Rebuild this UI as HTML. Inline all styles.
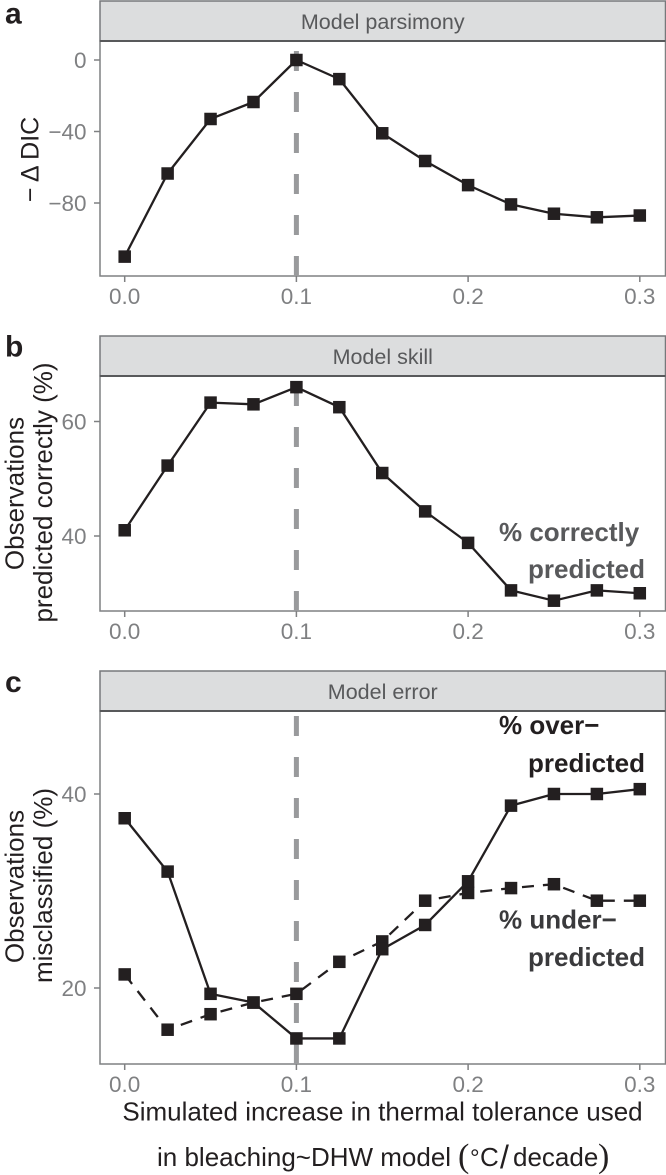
<!DOCTYPE html>
<html>
<head>
<meta charset="utf-8">
<style>
html,body{margin:0;padding:0;background:#fff;width:666px;height:1175px;overflow:hidden}
svg{display:block;font-family:"Liberation Sans",sans-serif}
</style>
</head>
<body>
<svg id="figure" width="666" height="1175" viewBox="0 0 666 1175" xmlns="http://www.w3.org/2000/svg">
<g id="panels"></g>
<text x="5" y="23.5" font-size="30" font-weight="bold" fill="#231f20">a</text>
<text x="5" y="356.5" font-size="30" font-weight="bold" fill="#231f20">b</text>
<text x="5" y="692" font-size="30" font-weight="bold" fill="#231f20">c</text>
<text transform="translate(38.5,159.5) rotate(-90)" text-anchor="middle" font-size="25" fill="#231f20">− Δ DIC</text>
<text transform="translate(23.5,493.5) rotate(-90)" text-anchor="middle" font-size="26" fill="#231f20">Observations</text>
<text transform="translate(52,492.5) rotate(-90)" text-anchor="middle" font-size="26" fill="#231f20">predicted correctly (%)</text>
<text transform="translate(23.5,886.5) rotate(-90)" text-anchor="middle" font-size="26" fill="#231f20">Observations</text>
<text transform="translate(52,885.5) rotate(-90)" text-anchor="middle" font-size="26" fill="#231f20">misclassified (%)</text>
<text x="499" y="541" font-size="26" font-weight="bold" fill="#58595b">% correctly</text>
<text x="528" y="578" font-size="26" font-weight="bold" fill="#58595b">predicted</text>
<text x="499" y="734" font-size="26" font-weight="bold" fill="#231f20">% over−</text>
<text x="528" y="772" font-size="26" font-weight="bold" fill="#231f20">predicted</text>
<text x="499" y="928.5" font-size="26" font-weight="bold" fill="#3a3a3c">% under−</text>
<text x="528" y="966" font-size="26" font-weight="bold" fill="#3a3a3c">predicted</text>
<text x="382.5" y="1120.5" text-anchor="middle" font-size="26" fill="#231f20">Simulated increase in thermal tolerance used</text>
<text x="157" y="1166" font-size="26" fill="#231f20">in bleaching~DHW model <tspan font-size="34" font-family="Liberation Serif" x="458" y="1167">(</tspan><tspan font-size="24" x="470" y="1166">°</tspan><tspan x="480" y="1166">C</tspan><tspan font-size="32" x="500" y="1168">/</tspan><tspan x="513" y="1166">decade</tspan><tspan font-size="34" font-family="Liberation Serif" x="598" y="1167">)</tspan></text>
</svg>
<script>
var xValues = [0, 0.025, 0.05, 0.075, 0.1, 0.125, 0.15, 0.175, 0.2, 0.225, 0.25, 0.275, 0.3];
var xTicks = [0, 0.1, 0.2, 0.3];
var xTickLabels = ['0.0', '0.1', '0.2', '0.3'];
var referenceX = 0.1;
var parsimonyValues = [-110, -63.5, -33, -23.5, 0, -10.7, -41, -56.5, -70, -80.8, -86, -88, -87];
var parsimonyTicks = [0, -40, -80];
var parsimonyTickLabels = ['0', '−40', '−80'];
var skillValues = [41, 52.3, 63.3, 63, 66, 62.5, 51, 44.3, 38.8, 30.5, 28.7, 30.5, 30];
var skillTicks = [60, 40];
var skillTickLabels = ['60', '40'];
var overValues = [37.5, 32, 19.4, 18.5, 14.8, 14.8, 24, 26.5, 31, 38.8, 40, 40, 40.5];
var underValues = [21.4, 15.7, 17.3, 18.5, 19.4, 22.7, 24.8, 29, 29.8, 30.3, 30.7, 29, 29];
var errorTicks = [40, 20];
var errorTickLabels = ['40', '20'];

var NS = 'http://www.w3.org/2000/svg';
var root = document.getElementById('panels');
function mk(parent, tag, attrs, text) {
  var el = document.createElementNS(NS, tag);
  for (var k in attrs) el.setAttribute(k, attrs[k]);
  if (text !== undefined) el.textContent = text;
  parent.appendChild(el);
  return el;
}
function xScale(v) { return 124.7 + v * 1717; }
function makeYScale(v0, y0, v1, y1) {
  return function (v) { return y0 + (v - v0) * (y1 - y0) / (v1 - v0); };
}
var LEFT = 100, RIGHT = 665.5;
var INK = '#231f20', AXIS = '#7f8082';

function drawPanel(key, title, top, stripBottom, bottom, yScale, yTicks, yLabels, series) {
  var g = mk(root, 'g', {});
  
  

  var strip = mk(g, 'rect', {x: LEFT, y: top, width: RIGHT - LEFT, height: stripBottom - top, fill: '#dcddde', stroke: '#77787b', 'stroke-width': 1.5});
  
  

  var stripLabel = mk(g, 'text', {x: (LEFT + RIGHT) / 2, y: top + 28, 'text-anchor': 'middle', 'font-size': 21.5, fill: '#58595b'}, title);
  
  

  var frame = mk(g, 'rect', {x: LEFT, y: stripBottom, width: RIGHT - LEFT, height: bottom - stripBottom, fill: '#fff', stroke: AXIS, 'stroke-width': 1.5});
  
  

  var topRule = mk(g, 'line', {x1: LEFT, x2: RIGHT, y1: stripBottom, y2: stripBottom, stroke: '#58595b', 'stroke-width': 2});
  
  

  var ref = mk(g, 'line', {x1: xScale(referenceX), x2: xScale(referenceX), y1: bottom, y2: stripBottom + 1, stroke: '#999a9c', 'stroke-width': 5, 'stroke-dasharray': '20 21'});
  
  

  xTicks.forEach(function (t, i) {
    var tick = mk(g, 'line', {x1: xScale(t), x2: xScale(t), y1: bottom, y2: bottom + 6, stroke: AXIS, 'stroke-width': 1.5});
    
    
    var lab = mk(g, 'text', {x: xScale(t), y: bottom + 28, 'text-anchor': 'middle', 'font-size': 22.5, fill: '#7f8082'}, xTickLabels[i]);
    
    
  });
  yTicks.forEach(function (t, i) {
    var tick = mk(g, 'line', {x1: LEFT - 6, x2: LEFT, y1: yScale(t), y2: yScale(t), stroke: AXIS, 'stroke-width': 1.5});
    
    
    var lab = mk(g, 'text', {x: 86.5, y: yScale(t) + 8, 'text-anchor': 'end', 'font-size': 22.5, fill: '#7f8082'}, yLabels[i]);
    
    
  });
  series.forEach(function (s) {
    var pts = s.values.map(function (v, i) { return xScale(xValues[i]) + ',' + yScale(v); }).join(' ');
    var attrs = {points: pts, fill: 'none', stroke: INK, 'stroke-width': 2.3, 'stroke-linejoin': 'round'};
    if (s.dash) attrs['stroke-dasharray'] = s.dash;
    var line = mk(g, 'polyline', attrs);
    
    
    s.values.forEach(function (v, i) {
      var pt = mk(g, 'rect', {x: xScale(xValues[i]) - 6.25, y: yScale(v) - 6.25, width: 12.5, height: 12.5, fill: INK});
      
      
    });
  });
}

drawPanel('a', 'Model parsimony', 1, 41, 276, makeYScale(0, 60, -80, 203), parsimonyTicks, parsimonyTickLabels,
  [{name: 'parsimony', values: parsimonyValues}]);
drawPanel('b', 'Model skill', 336, 376, 611, makeYScale(60, 421.5, 40, 536), skillTicks, skillTickLabels,
  [{name: 'correct', values: skillValues}]);
drawPanel('c', 'Model error', 671, 711, 1064, makeYScale(40, 794, 20, 988), errorTicks, errorTickLabels,
  [{name: 'under', values: underValues, dash: '12 9'}, {name: 'over', values: overValues}]);
</script>
</body>
</html>
